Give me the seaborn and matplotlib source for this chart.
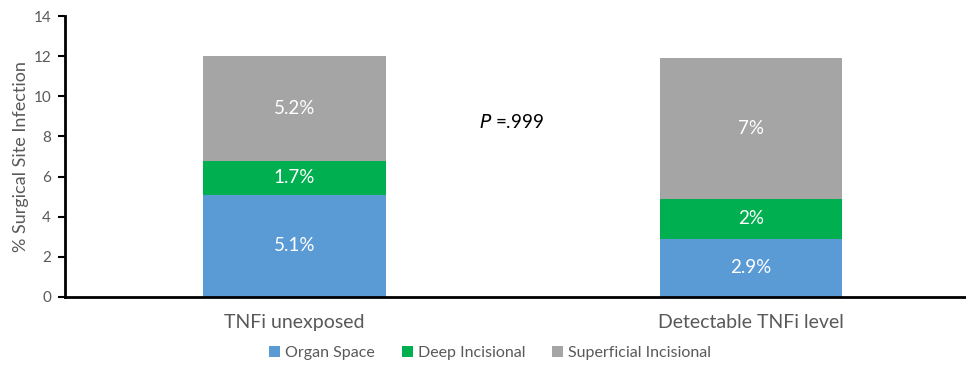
import numpy as np
import pandas as pd
import matplotlib
matplotlib.use("Agg")
import matplotlib.pyplot as plt
import seaborn as sns

categories = ["TNFi unexposed", "Detectable TNFi level"]
organ_space = [5.1, 2.9]
deep_incisional = [1.7, 2.0]
superficial_incisional = [5.2, 7.0]
segment_labels = [["5.1%", "2.9%"], ["1.7%", "2%"], ["5.2%", "7%"]]
series_names = ["Organ Space", "Deep Incisional", "Superficial Incisional"]
series_colors = ["#5B9BD5", "#00B050", "#A5A5A5"]
y_ticks = [0, 2, 4, 6, 8, 10, 12, 14]

sns.set_theme(style="white")
plt.rcParams["font.family"] = ["Lato", "DejaVu Sans"]
text_gray = "#595959"

fig = plt.figure(figsize=(9.66, 3.66), dpi=100)
ax = fig.add_axes([65 / 966, 1 - 297 / 366, 901 / 966, 281 / 366])

series = [organ_space, deep_incisional, superficial_incisional]
bottoms = np.zeros(len(categories))
stack_rows = []
for name, vals in zip(series_names, series):
    tops = bottoms + np.array(vals)
    stack_rows.append((name, bottoms.copy(), tops))
    bottoms = tops

# Draw cumulative heights from the tallest layer down so each segment shows
for (name, low, top), color in reversed(list(zip(stack_rows, series_colors))):
    df = pd.DataFrame({"category": categories, "value": top})
    sns.barplot(data=df, x="category", y="value", color=color, width=0.4,
                saturation=1, ax=ax, label=name, linewidth=0)

# Segment value labels
for (name, low, top), labels in zip(stack_rows, segment_labels):
    for i, lab in enumerate(labels):
        ax.text(i, (low[i] + top[i]) / 2, lab, ha="center", va="center",
                color="white", fontsize=13.5)

ax.text(0.475, 8.7, r"$\it{P}$ =.999", ha="center", va="center",
        fontsize=13.5, color="black")

ax.set_xlim(-0.503, 1.471)
ax.set_ylim(0, 14)
ax.set_yticks(y_ticks)
ax.set_xlabel("")
ax.set_ylabel("% Surgical Site Infection", fontsize=13, color=text_gray, labelpad=3)
ax.tick_params(axis="y", length=5, width=1.5, color="black", labelsize=11,
               labelcolor=text_gray, left=True, direction="out", pad=5)
ax.tick_params(axis="x", length=0, labelsize=14, labelcolor=text_gray, pad=12)
for side in ["top", "right"]:
    ax.spines[side].set_visible(False)
for side in ["left", "bottom"]:
    ax.spines[side].set_color("black")
    ax.spines[side].set_linewidth(2)

handles, labels = ax.get_legend_handles_labels()
ax.get_legend().remove()
order = [labels.index(n) for n in series_names]
leg = fig.legend([handles[k] for k in order], [labels[k] for k in order],
                 loc="center", bbox_to_anchor=(490 / 966, 1 - 353 / 366),
                 ncol=3, frameon=False, fontsize=11.5, handlelength=0.7,
                 handleheight=0.7, handletextpad=0.3, columnspacing=1.7)
for t in leg.get_texts():
    t.set_color(text_gray)

fig.savefig("out.png", dpi=100)
